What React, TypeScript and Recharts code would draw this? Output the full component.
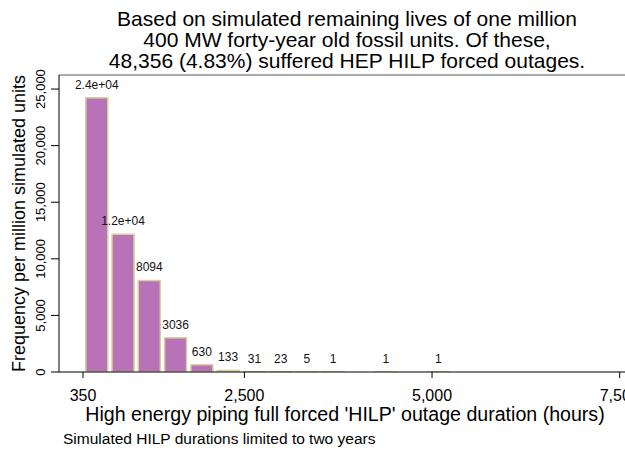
import { Bar, BarChart, LabelList, ReferenceLine, XAxis, YAxis } from 'recharts'

const binCenters = [535, 885, 1235, 1585, 1935, 2285, 2635, 2985, 3335, 3685, 4035, 4385, 4735, 5085]
const frequencies = [24230, 12171, 8094, 3036, 630, 133, 31, 23, 5, 1, 0, 1, 0, 1]
const xTicks = [350, 2500, 5000, 7500]
const yTicks = [0, 5000, 10000, 15000, 20000, 25000]
const titleLines = [
  'Based on simulated remaining lives of one million',
  '400 MW forty-year old fossil units. Of these,',
  '48,356 (4.83%) suffered HEP HILP forced outages.',
]

const FONT = '"Liberation Sans", Arial, Helvetica, sans-serif'

const data = binCenters.map((hours, i) => ({ hours, freq: frequencies[i] }))

const fmtComma = (v: number) => v.toLocaleString('en-US')

// stata %9.0g style: big counts go exponential
const fmtBarLabel = (v: unknown) => {
  const n = Number(v)
  if (!n) return ''
  if (n >= 10000) return n.toExponential(1).replace(/e\+(\d)$/, 'e+0$1')
  return String(n)
}

function YTick({ x, y, payload }: any) {
  return (
    <text
      x={x - 4}
      y={y}
      transform={`rotate(-90, ${x - 4}, ${y})`}
      textAnchor="middle"
      fontSize={13}
      fill="#000"
      fontFamily={FONT}
    >
      {fmtComma(payload.value)}
    </text>
  )
}

export default function App() {
  return (
    <div
      style={{
        position: 'absolute',
        left: 0,
        top: 0,
        width: 625,
        height: 454,
        overflow: 'hidden',
        background: '#fff',
        fontFamily: FONT,
      }}
    >
      <div
        style={{
          position: 'absolute',
          left: 27,
          width: 640,
          top: 8,
          fontSize: 21,
          lineHeight: '21px',
          textAlign: 'center',
          color: '#000',
          whiteSpace: 'nowrap',
        }}
      >
        {titleLines.map((line) => (
          <div key={line}>{line}</div>
        ))}
      </div>

      <BarChart
        width={700}
        height={454}
        data={data}
        margin={{ top: 75, right: 0, bottom: 0, left: 0 }}
        style={{ position: 'absolute', left: 0, top: 0 }}
      >
        <XAxis
          dataKey="hours"
          type="number"
          domain={[30, 8570]}
          ticks={xTicks}
          tickFormatter={fmtComma}
          height={82}
          tickSize={6}
          tickMargin={12}
          stroke="#000"
          tick={{ fill: '#000', fontSize: 16, fontFamily: FONT }}
          allowDataOverflow
          label={({ viewBox }: any) => (
            <text
              x={345}
              y={viewBox.y + 49}
              textAnchor="middle"
              fontSize={19.6}
              fill="#000"
              fontFamily={FONT}
            >
              High energy piping full forced 'HILP' outage duration (hours)
            </text>
          )}
        />
        <YAxis
          type="number"
          domain={[0, 26240]}
          ticks={yTicks}
          width={59}
          tickSize={8}
          tickMargin={2}
          stroke="#000"
          tick={<YTick />}
          allowDataOverflow
          label={({ viewBox }: any) => (
            <text
              x={25}
              y={viewBox.y + viewBox.height / 2}
              transform={`rotate(-90, 25, ${viewBox.y + viewBox.height / 2})`}
              textAnchor="middle"
              fontSize={18}
              fill="#000"
              fontFamily={FONT}
            >
              Frequency per million simulated units
            </text>
          )}
        />
        <ReferenceLine y={26240} stroke="#5a5a5a" strokeWidth={1} />
        <Bar
          dataKey="freq"
          barSize={22}
          fill="#b873b8"
          stroke="#d6d19a"
          strokeWidth={1.5}
          isAnimationActive={false}
        >
          <LabelList
            dataKey="freq"
            position="top"
            offset={9}
            formatter={fmtBarLabel}
            fontSize={12}
            fill="#111"
            fontFamily={FONT}
          />
        </Bar>
      </BarChart>

      <div
        style={{
          position: 'absolute',
          left: 63,
          top: 430,
          fontSize: 15.5,
          lineHeight: '18px',
          color: '#000',
          whiteSpace: 'nowrap',
        }}
      >
        Simulated HILP durations limited to two years
      </div>
    </div>
  )
}
